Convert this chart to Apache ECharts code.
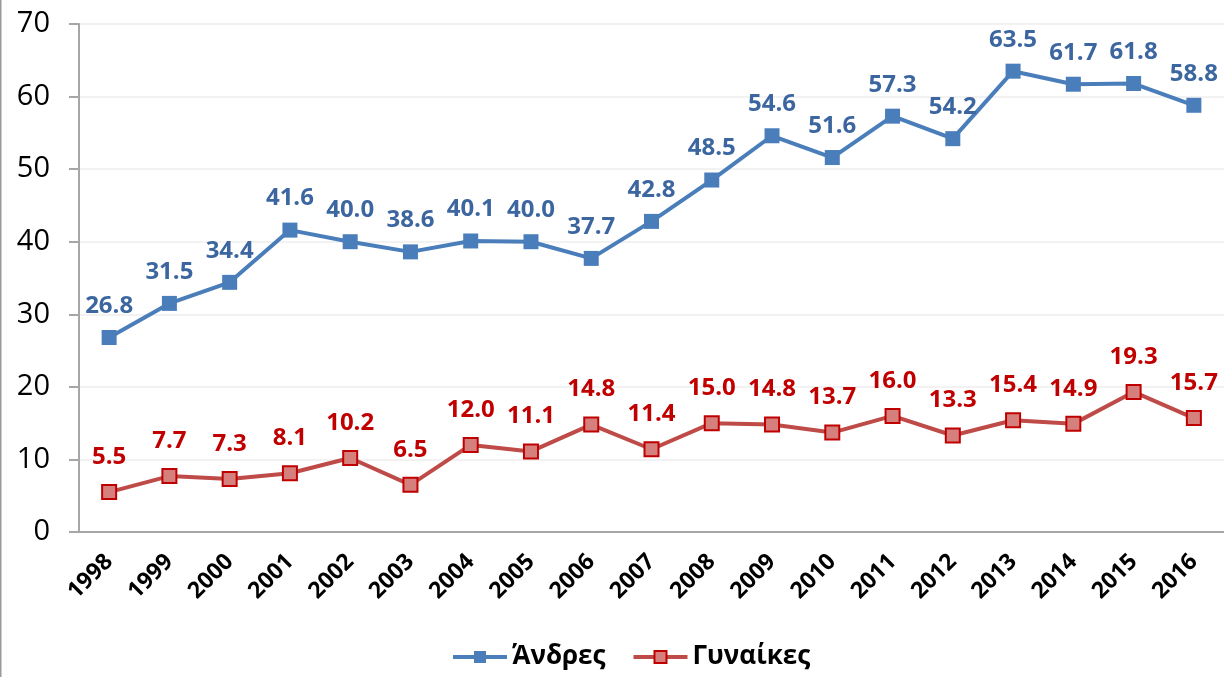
<!DOCTYPE html>
<html><head><meta charset="utf-8">
<script src="https://cdn.jsdelivr.net/npm/echarts@6/dist/echarts.min.js"></script>
<style>html,body{margin:0;padding:0;background:#fff}#c{width:1224px;height:677px}</style>
</head><body><div id="c"></div>
<script>
const years = ['1998','1999','2000','2001','2002','2003','2004','2005','2006','2007','2008','2009','2010','2011','2012','2013','2014','2015','2016'];
const men = [26.8,31.5,34.4,41.6,40.0,38.6,40.1,40.0,37.7,42.8,48.5,54.6,51.6,57.3,54.2,63.5,61.7,61.8,58.8];
const women = [5.5,7.7,7.3,8.1,10.2,6.5,12.0,11.1,14.8,11.4,15.0,14.8,13.7,16.0,13.3,15.4,14.9,19.3,15.7];
const yTicks = [0,10,20,30,40,50,60,70];
const font = 'Open Sans, DejaVu Sans, sans-serif';
const chart = echarts.init(document.getElementById('c'));
chart.setOption({
  animation:false,
  graphic:[{type:'rect',shape:{x:0,y:0,width:1.5,height:677},style:{fill:'#9a9a9a'}}],
  grid:{left:79,right:0,top:24,bottom:145},
  legend:{bottom:2,left:446,itemWidth:54,itemHeight:15,itemGap:26,
    lineStyle:{width:4},
    textStyle:{fontSize:26,fontWeight:'bold',color:'#000',fontFamily:font},
    data:['Άνδρες','Γυναίκες']},
  xAxis:{type:'category',data:years,boundaryGap:true,
    axisLine:{lineStyle:{color:'#a6a6a6',width:2}},
    axisTick:{alignWithLabel:false,length:10,lineStyle:{color:'#a6a6a6',width:2}},
    axisLabel:{rotate:45,fontSize:23,fontWeight:'bold',color:'#000',fontFamily:font,margin:26,interval:0}},
  yAxis:{type:'value',min:0,max:70,interval:10,
    axisLine:{show:true,lineStyle:{color:'#a6a6a6',width:2}},
    axisTick:{show:true,length:10,lineStyle:{color:'#a6a6a6',width:2}},
    splitLine:{lineStyle:{color:'#eeeeee',width:1.5}},
    axisLabel:{fontSize:29,color:'#000',fontFamily:font,margin:29,
      formatter:v=>yTicks.includes(v)?String(v):''}},
  series:[
    {name:'Άνδρες',type:'line',data:men,symbol:'rect',symbolSize:15,
      lineStyle:{color:'#4a7ebb',width:4},itemStyle:{color:'#4a7ebb'},
      label:{show:true,position:'top',distance:12,fontSize:24,fontWeight:'bold',color:'#3c66a0',fontFamily:font,
        formatter:p=>p.value.toFixed(1)}},
    {name:'Γυναίκες',type:'line',data:women,symbol:'rect',symbolSize:14,
      lineStyle:{color:'#be4b48',width:4},itemStyle:{color:'#d6807e',borderColor:'#c00000',borderWidth:2},
      label:{show:true,position:'top',distance:15,fontSize:24,fontWeight:'bold',color:'#c00000',fontFamily:font,
        formatter:p=>p.value.toFixed(1)}}
  ]
});
</script></body></html>
